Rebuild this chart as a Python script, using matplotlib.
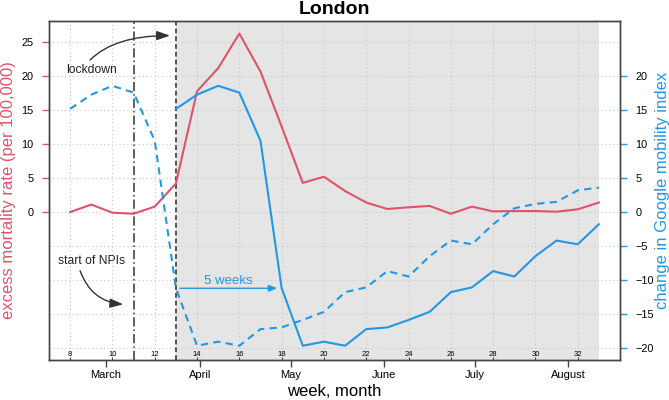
import matplotlib
matplotlib.use('Agg')
import matplotlib.pyplot as plt

plt.rcParams['font.family'] = ['Liberation Sans', 'DejaVu Sans']

# ---- data ----
weeks = list(range(8, 34))
mortality = [0.0, 1.1, -0.1, -0.25, 0.8, 4.2, 17.8, 21.2, 26.3, 20.7, 12.6, 4.3, 5.2,
             3.1, 1.4, 0.45, 0.7, 0.9, -0.25, 0.8, 0.1, 0.15, 0.15, 0.05, 0.4, 1.4]
mobility_weeks = list(range(13, 39))
mobility = [15.2, 17.3, 18.6, 17.6, 10.5, -11.2, -19.7, -19.1, -19.7, -17.25, -17.0,
            -15.9, -14.7, -11.8, -11.1, -8.7, -9.5, -6.5, -4.2, -4.75, -1.8,
            0.55, 1.2, 1.5, 3.2, 3.6]
lead_weeks = 5
last_week = 33
npi_week = 11
lockdown_week = 13
week_ticks = list(range(8, 33, 2))
month_names = ['March', 'April', 'May', 'June', 'July', 'August']
month_pos = [9.70, 14.13, 18.42, 22.85, 27.13, 31.56]
mort_ticks = [0, 5, 10, 15, 20, 25]
mob_ticks = [-20, -15, -10, -5, 0, 5, 10, 15, 20]

RED = '#DF536B'
BLUE = '#2297E6'
SPINE = '#444444'

fig = plt.figure(figsize=(6.69, 4.0), dpi=100)
ax = fig.add_axes([49 / 669, 40 / 400, 571 / 669, 339 / 400])
ax.set_xlim(7, 34)
ax.set_ylim(-21.8, 28.15)

ax.axvspan(lockdown_week, last_week, color='#E5E5E5', lw=0, zorder=0)
for lv in sorted(set(mort_ticks + mob_ticks)):
    ax.axhline(lv, color='#C8C8C8', lw=0.8, ls=(0, (1, 2.5)), zorder=1)
for w in week_ticks:
    ax.axvline(w, color='#C8C8C8', lw=0.8, ls=(0, (1, 2.5)), zorder=1)

ax.axvline(npi_week, color='#333333', lw=1.1, ls=(0, (6, 2, 1, 2)), zorder=2)
ax.axvline(lockdown_week, color='#555555', lw=1.4, ls=(0, (2.5, 1.5)), zorder=2)

ax.plot(weeks, mortality, color=RED, lw=1.5, zorder=3)

# x axis: months (outside) and weeks (inside)
ax.set_xticks(month_pos)
ax.set_xticklabels(month_names)
ax.set_xticks(week_ticks, minor=True)
ax.set_xticklabels([str(w) for w in week_ticks], minor=True)
ax.tick_params(axis='x', which='major', direction='out', length=5, width=1,
               color=SPINE, labelsize=8, pad=2.5)
ax.tick_params(axis='x', which='minor', direction='in', length=2, width=0.8,
               color=SPINE, labelsize=5.5, pad=-6.7)

ax.set_yticks(mort_ticks)
ax.tick_params(axis='y', direction='out', length=5, width=1, color=RED,
               labelsize=7.8, pad=6)

ax2 = ax.twinx()
ax2.set_ylim(-21.8, 28.15)
ax2.set_yticks(mob_ticks)
ax2.tick_params(axis='y', direction='out', length=5, width=1, color=BLUE,
                labelsize=7.8, pad=6)

solid_w = [w for w in mobility_weeks if w <= last_week]
solid_v = mobility[:len(solid_w)]
ax2.plot(solid_w, solid_v, color=BLUE, lw=1.5, zorder=3)
ax2.plot([w - lead_weeks for w in mobility_weeks], mobility, color=BLUE, lw=1.5,
         ls=(0, (3.5, 2.5)), zorder=3)

for a in (ax, ax2):
    for s in a.spines.values():
        s.set_color(SPINE)
        s.set_linewidth(1)

# annotations
ax2.annotate('', xy=(12.72, 26.0), xytext=(8.94, 22.4),
             arrowprops=dict(arrowstyle='-|>,head_length=0.8,head_width=0.28',
                             connectionstyle='angle3,angleA=45,angleB=0',
                             color='#333333', lw=1, shrinkA=0, shrinkB=0))
ax2.text(9.02, 20.9, 'lockdown', ha='center', va='center', fontsize=8.7, color='#222222')
ax2.annotate('', xy=(10.51, -13.6), xytext=(8.47, -8.64),
             arrowprops=dict(arrowstyle='-|>,head_length=0.8,head_width=0.28',
                             connectionstyle='angle3,angleA=-70,angleB=-5',
                             color='#333333', lw=1, shrinkA=0, shrinkB=0))
ax2.text(9.0, -7.2, 'start of NPIs', ha='center', va='center', fontsize=8.7, color='#222222')
ax2.annotate('', xy=(17.79, -11.23), xytext=(13.19, -11.23),
             arrowprops=dict(arrowstyle='-|>,head_length=0.5,head_width=0.2',
                             color=BLUE, lw=1, shrinkA=0, shrinkB=0))
ax2.text(15.5, -10.1, '5 weeks', ha='center', va='center', fontsize=9.5, color=BLUE)

ax.set_title('London', fontsize=14, fontweight='bold', pad=5)
fig.text(8.5 / 669, 1 - 190.5 / 400, 'excess mortality rate (per 100,000)', rotation=90,
         ha='center', va='center', fontsize=12, color=RED)
fig.text(662 / 669, 1 - 190.5 / 400, 'change in Google mobility index', rotation=90,
         ha='center', va='center', fontsize=12, color=BLUE)
fig.text(0.5, 4 / 400, 'week, month', ha='center', va='baseline', fontsize=12)

fig.savefig('out.png', dpi=100)
